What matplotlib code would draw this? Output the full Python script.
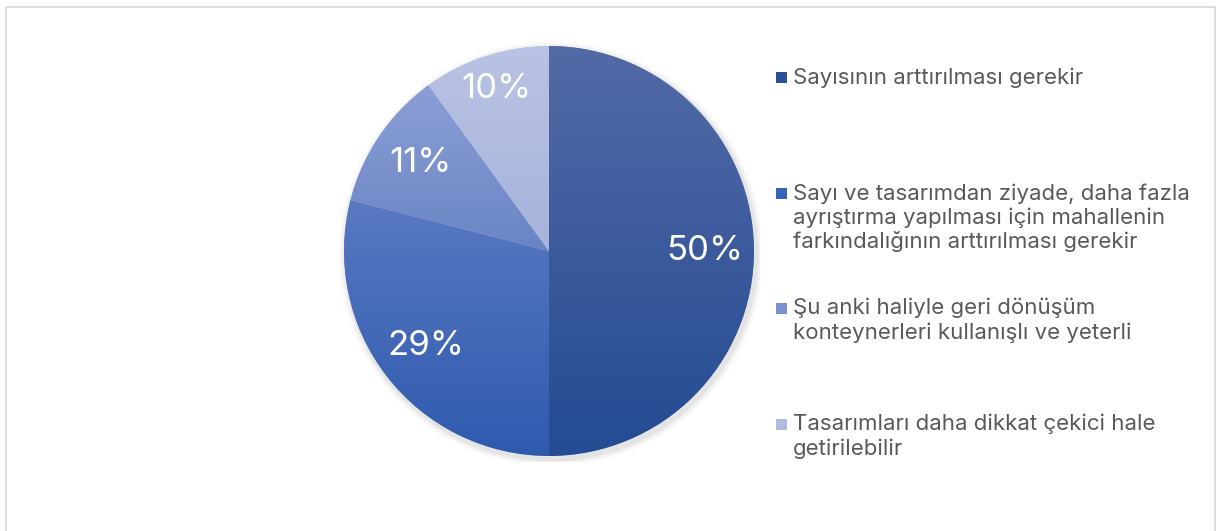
import numpy as np
import matplotlib.pyplot as plt
from matplotlib.patches import Rectangle
from matplotlib.colors import LinearSegmentedColormap

# survey answers and shares (%)
labels = [
    "Sayısının arttırılması gerekir",
    "Sayı ve tasarımdan ziyade, daha fazla\nayrıştırma yapılması için mahallenin\nfarkındalığının arttırılması gerekir",
    "Şu anki haliyle geri dönüşüm\nkonteynerleri kullanışlı ve yeterli",
    "Tasarımları daha dikkat çekici hale\ngetirilebilir",
]
shares = [50, 29, 11, 10]

# top / bottom colour of each slice gradient
top_colors = ["#536aa6", "#5a79c2", "#8b9fd6", "#b9c3e3"]
bottom_colors = ["#244b93", "#2e5aae", "#6a84c4", "#a6b3dc"]
legend_colors = ["#2c4f98", "#3763b8", "#7b91cd", "#b0bbe0"]

W, H = 1219, 531
fig = plt.figure(figsize=(W / 100, H / 100), dpi=100)
fig.patch.set_facecolor("white")

# outer frame
fig.add_artist(Rectangle((6 / W, -0.01), (1215 - 6) / W, 1 - 7 / H + 0.01,
                         transform=fig.transFigure, fill=False,
                         edgecolor="#d9d9d9", linewidth=1.2))

cx, cy, r = 549, 251, 205
m = 1.03
ax = fig.add_axes([(cx - r * m) / W, 1 - (cy + r * m) / H, 2 * r * m / W, 2 * r * m / H])
ax.axis("off")

wedges, texts, autotexts = ax.pie(
    shares, startangle=90, counterclock=False, radius=1,
    colors=legend_colors, autopct="%d%%", pctdistance=0.76,
    wedgeprops=dict(linewidth=0.3, edgecolor="white"),
    textprops=dict(color="white", fontsize=25,
                   family=["Inter", "DejaVu Sans"]))

# soft shadow behind the pie
for k, a in enumerate([0.05, 0.035, 0.02]):
    sh = plt.Circle((0.01, -0.015), 1 + 0.012 * (k + 1), color="black",
                    alpha=a, zorder=0.5, linewidth=0)
    ax.add_patch(sh)

ax.set_xlim(-m, m)
ax.set_ylim(-m, m)
ax.set_aspect("equal")

# vertical gradient fill inside each wedge
for w, c0, c1 in zip(wedges, top_colors, bottom_colors):
    ext = w.get_window_extent()
    inv = ax.transData.inverted()
    (x0, y0), (x1, y1) = inv.transform([[ext.x0, ext.y0], [ext.x1, ext.y1]])
    cmap = LinearSegmentedColormap.from_list("g", [c1, c0])
    grad = np.linspace(0, 1, 256).reshape(-1, 1)
    im = ax.imshow(grad, cmap=cmap, origin="lower", extent=[x0, x1, y0, y1],
                   aspect="auto", zorder=1.5)
    im.set_clip_path(w)
    w.set_zorder(1.4)

ax.set_xlim(-m, m)
ax.set_ylim(-m, m)

for t in autotexts:
    t.set_zorder(3)
# the smallest slice label sits further out
x, y = autotexts[3].get_position()
autotexts[3].set_position((x * 0.83 / 0.76, y * 0.83 / 0.76))

# legend, drawn by hand to match spacing
legend_y = [77, 193, 308, 424]
for lab, col, yy in zip(labels, legend_colors, legend_y):
    fig.add_artist(Rectangle((776 / W, 1 - (yy + 6) / H), 11 / W, 11 / H,
                             transform=fig.transFigure, facecolor=col,
                             edgecolor="none"))
    fig.text(793 / W, 1 - (yy - 10) / H, lab, ha="left", va="top",
             fontsize=16, color="#595959", linespacing=1.22,
             family=["Inter", "DejaVu Sans"])

fig.savefig("out.png", dpi=100)
